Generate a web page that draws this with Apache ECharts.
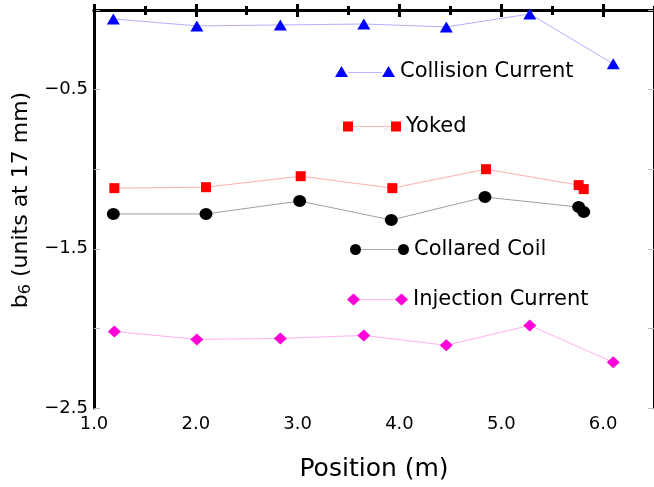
<!DOCTYPE html>
<html><head><meta charset="utf-8">
<script src="https://cdn.jsdelivr.net/npm/echarts@6/dist/echarts.min.js"></script>
<style>html,body{margin:0;padding:0;background:#fff}#c{width:654px;height:487px}</style>
</head><body><div id="c"></div>
<script>
// ---- data ----
const collisionX = [1.19, 2.01, 2.83, 3.65, 4.46, 5.28, 6.10];
const collisionY = [-0.056, -0.100, -0.094, -0.088, -0.106, -0.025, -0.338];
const yokedX = [1.20, 2.10, 3.03, 3.93, 4.85, 5.76, 5.81];
const yokedY = [-1.119, -1.113, -1.044, -1.119, -1.000, -1.100, -1.125];
const collaredX = [1.19, 2.10, 3.02, 3.92, 4.84, 5.76, 5.81];
const collaredY = [-1.281, -1.281, -1.200, -1.319, -1.175, -1.238, -1.269];
const injectionX = [1.20, 2.01, 2.83, 3.65, 4.46, 5.28, 6.10];
const injectionY = [-2.019, -2.069, -2.063, -2.044, -2.106, -1.981, -2.213];
const seriesNames = ['Collision Current', 'Yoked', 'Collared Coil', 'Injection Current'];
const xTickValues = [1, 2, 3, 4, 5, 6];
const xTickLabels = ['1.0', '2.0', '3.0', '4.0', '5.0', '6.0'];
const yTickValues = [-2.5, -1.5, -0.5];
const yTickLabels = ['\u22122.5', '\u22121.5', '\u22120.5'];

const zip = (xs, ys) => xs.map((x, i) => [x, ys[i]]);
const FONT = 'DejaVu Sans';
const lookup = (vals, labels, v) => {
  for (let i = 0; i < vals.length; i++) if (Math.abs(vals[i] - v) < 1e-6) return labels[i];
  return '';
};
const grad = (c, light, a, b) => ({
  type: 'linear', x: 0, y: 0, x2: 1, y2: 0,
  colorStops: [
    {offset: 0, color: c}, {offset: a, color: c}, {offset: a, color: light},
    {offset: b, color: light}, {offset: b, color: c}, {offset: 1, color: c}
  ]
});
const legendBase = (left, top, w, h) => ({
  left: left, top: top, padding: 0, itemGap: 0, itemWidth: w, itemHeight: h,
  selectedMode: false, orient: 'horizontal',
  textStyle: {fontFamily: FONT, fontSize: 21, color: '#000'}
});

const GRID = {left: 94, right: -4, top: 10, bottom: 78};
const chart = echarts.init(document.getElementById('c'), null, {renderer: 'canvas'});
const option = {
  backgroundColor: '#ffffff',
  animation: false,
  grid: [Object.assign({}, GRID), Object.assign({}, GRID)],
  xAxis: [
    { gridIndex: 0, type: 'value', position: 'bottom', min: 1, max: 6.5, interval: 1,
      axisLine: {show: true, lineStyle: {color: '#000', width: 3}},
      axisTick: {show: true, inside: true, length: 6, lineStyle: {color: '#000', width: 3}},
      axisLabel: {show: true, margin: 7, showMaxLabel: false, fontFamily: FONT, fontSize: 18, color: '#000',
        formatter: v => lookup(xTickValues, xTickLabels, v)},
      splitLine: {show: false},
      name: 'Position (m)', nameLocation: 'middle', nameGap: 49,
      nameTextStyle: {fontFamily: FONT, fontSize: 25, color: '#000'} },
    { gridIndex: 0, type: 'value', position: 'top', min: 1, max: 6.5, interval: 1,
      axisLine: {show: true, lineStyle: {color: '#000', width: 3}},
      axisTick: {show: true, inside: true, length: 7, lineStyle: {color: '#000', width: 3}},
      axisLabel: {show: false}, splitLine: {show: false} },
    { gridIndex: 1, type: 'value', position: 'bottom', min: 1, max: 6.5, interval: 0.5,
      axisLine: {show: false},
      axisTick: {show: true, inside: true, length: 4, lineStyle: {color: '#000', width: 3}},
      axisLabel: {show: false}, splitLine: {show: false} },
    { gridIndex: 1, type: 'value', position: 'top', min: 1, max: 6.5, interval: 0.5,
      axisLine: {show: false},
      axisTick: {show: true, inside: true, length: 5, lineStyle: {color: '#000', width: 3}},
      axisLabel: {show: false}, splitLine: {show: false} }
  ],
  yAxis: [
    { gridIndex: 0, type: 'value', position: 'left', min: -2.5, max: 0, interval: 0.5,
      axisLine: {show: true, lineStyle: {color: '#000', width: 3}},
      axisTick: {show: true, inside: true, length: 6, lineStyle: {color: '#bbb', width: 1}},
      axisLabel: {show: true, margin: 6, fontFamily: FONT, fontSize: 18, color: '#000',
        formatter: v => lookup(yTickValues, yTickLabels, v)},
      splitLine: {show: false},
      name: '{b|b}{s|6}{b| (units at 17 mm)}', nameLocation: 'middle', nameGap: 59, nameRotate: 90,
      nameTextStyle: {padding: [0, 0, 0, 18], rich: {
        b: {fontFamily: FONT, fontSize: 22, color: '#000'},
        s: {fontFamily: FONT, fontSize: 16, color: '#000', padding: [8, 0, 0, 0]}
      }} },
    { gridIndex: 0, type: 'value', position: 'right', min: -2.5, max: 0, interval: 0.5,
      axisLine: {show: true, lineStyle: {color: '#000', width: 3}},
      axisTick: {show: true, inside: true, length: 6, lineStyle: {color: '#bbb', width: 1}},
      axisLabel: {show: false}, splitLine: {show: false} },
    { gridIndex: 1, type: 'value', show: false, min: -2.5, max: 0 }
  ],
  legend: [
    Object.assign(legendBase(335, 61, 60, 11), {data: [{name: seriesNames[0],
      icon: 'path://M0 11 L6.5 0 L13 11 Z M47 11 L53.5 0 L60 11 Z M13 6 L47 6 L47 7 L13 7 Z',
      itemStyle: {color: grad('#0000ff', '#b8b8ff', 0.217, 0.783), borderWidth: 0}}]}),
    Object.assign(legendBase(343, 116, 58, 10), {data: [{name: seriesNames[1],
      icon: 'path://M0 0 L10 0 L10 10 L0 10 Z M48 0 L58 0 L58 10 L48 10 Z M10 4.5 L48 4.5 L48 5.5 L10 5.5 Z',
      itemStyle: {color: grad('#ff0000', '#ffb8b8', 0.172, 0.828), borderWidth: 0}}]}),
    Object.assign(legendBase(350, 239, 59, 11), {data: [{name: seriesNames[2],
      icon: 'path://M0 5.5 A5.5 5.5 0 1 0 11 5.5 A5.5 5.5 0 1 0 0 5.5 Z M48 5.5 A5.5 5.5 0 1 0 59 5.5 A5.5 5.5 0 1 0 48 5.5 Z M11 5 L48 5 L48 6 L11 6 Z',
      itemStyle: {color: grad('#000000', '#aaaaaa', 0.186, 0.814), borderWidth: 0}}]}),
    Object.assign(legendBase(347, 289, 61, 12), {data: [{name: seriesNames[3],
      icon: 'path://M0 6 L6.5 0 L13 6 L6.5 12 Z M48 6 L54.5 0 L61 6 L54.5 12 Z M13 5.5 L48 5.5 L48 6.5 L13 6.5 Z',
      itemStyle: {color: grad('#ff00d8', '#ffb8f0', 0.213, 0.787), borderWidth: 0}}]})
  ],
  series: [
    { name: seriesNames[0], type: 'line', xAxisIndex: 0, yAxisIndex: 0, data: zip(collisionX, collisionY),
      symbol: 'triangle', symbolSize: [13, 11], itemStyle: {color: '#0000ff'},
      lineStyle: {color: '#b0b0ff', width: 1} },
    { name: seriesNames[1], type: 'line', xAxisIndex: 0, yAxisIndex: 0, data: zip(yokedX, yokedY),
      symbol: 'rect', symbolSize: 10, itemStyle: {color: '#ff0000'},
      lineStyle: {color: '#ffb0b0', width: 1} },
    { name: seriesNames[2], type: 'line', xAxisIndex: 0, yAxisIndex: 0, data: zip(collaredX, collaredY),
      symbol: 'circle', symbolSize: [13, 12], itemStyle: {color: '#000000'},
      lineStyle: {color: '#a0a0a0', width: 1} },
    { name: seriesNames[3], type: 'line', xAxisIndex: 0, yAxisIndex: 0, data: zip(injectionX, injectionY),
      symbol: 'diamond', symbolSize: [13, 12], itemStyle: {color: '#ff00d8'},
      lineStyle: {color: '#ffb0f0', width: 1} }
  ]
};
chart.setOption(option);
</script></body></html>
